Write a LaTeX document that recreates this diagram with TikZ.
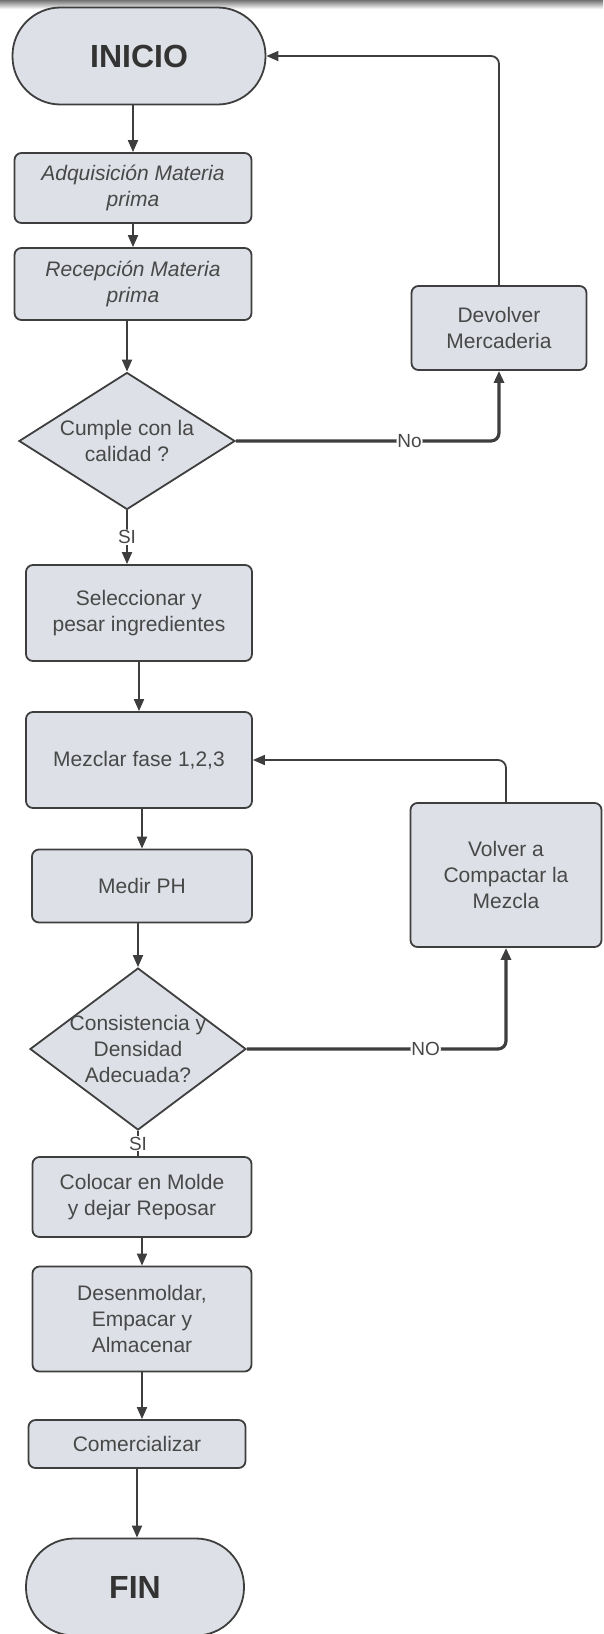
\documentclass[tikz,border=0pt]{standalone}
\usepackage{fontspec}
\setmainfont{Liberation Sans}
\usepackage{xcolor}
\usepackage{tikz}
\usetikzlibrary{shapes.geometric, arrows.meta, positioning}

\definecolor{cajagris}{RGB}{221,224,230}
\definecolor{borde}{RGB}{62,62,62}
\definecolor{texto}{RGB}{72,72,72}

\begin{document}
\begin{tikzpicture}[x=1pt, y=-1pt,
            box/.style={draw=borde, line width=1.8pt, rectangle, rounded corners=7pt, fill=cajagris, align=center, text=texto, inner sep=2pt, font=\fontsize{21}{26}\selectfont},
            term/.style={box, rounded corners=48pt, text=black!80, font=\fontsize{32}{38}\selectfont\bfseries},
            decision/.style={draw=borde, line width=1.8pt, diamond, fill=cajagris, inner sep=0pt},
            dtext/.style={align=center, text=texto, font=\fontsize{21}{26}\selectfont},
            pipe/.style={-{Triangle[length=12pt, width=10pt]}, line width=1.8pt, draw=borde, rounded corners=8pt},
            thickpipe/.style={pipe, line width=3.2pt},
            lbl/.style={fill=white, inner sep=1pt, text=texto, font=\fontsize{19}{22}\selectfont}]

            \useasboundingbox (0,0) rectangle (603,1634);
            \shade[top color=black!55, bottom color=white] (0,0) rectangle (603,9);

            % inicio
            \node[term, minimum width=253pt, minimum height=97pt] (inicio) at (139,56) {INICIO};

            % recepcion
            \node[box, minimum width=237pt, minimum height=70pt, font=\fontsize{21}{26}\selectfont\itshape] (adq) at (133,188) {Adquisición Materia\\prima};
            \node[box, minimum width=237pt, minimum height=72pt, font=\fontsize{21}{26}\selectfont\itshape] (rec) at (133,284) {Recepción Materia\\prima};
            \node[decision, minimum width=216pt, minimum height=137pt, label={[dtext]center:Cumple con la\\calidad ?}] (cumple) at (127,441) {};
            \node[box, minimum width=175pt, minimum height=84pt] (devolver) at (499,328) {Devolver\\Mercaderia};

            % preparacion
            \node[box, minimum width=226pt, minimum height=96pt] (selec) at (139,613) {Seleccionar y\\pesar ingredientes};
            \node[box, minimum width=226pt, minimum height=96pt] (mezclar) at (139,760) {Mezclar fase 1,2,3};
            \node[box, minimum width=220pt, minimum height=73pt] (medir) at (142,886) {Medir PH};
            \node[decision, minimum width=216pt, minimum height=162pt, label={[dtext]center:Consistencia y\\Densidad\\Adecuada?}] (consist) at (138,1049) {};
            \node[box, minimum width=191pt, minimum height=144pt] (volver) at (506,875) {Volver a\\Compactar la\\Mezcla};

            % salida
            \node[box, minimum width=219pt, minimum height=80pt] (colocar) at (142,1197) {Colocar en Molde\\y dejar Reposar};
            \node[box, minimum width=219pt, minimum height=105pt] (desen) at (142,1319) {Desenmoldar,\\Empacar y\\Almacenar};
            \node[box, minimum width=217pt, minimum height=48pt] (comerc) at (137,1444) {Comercializar};
            \node[term, minimum width=218pt, minimum height=97pt] (fin) at (135,1587) {FIN};

            % conexiones
            \draw[pipe] (inicio.south -| adq) -- (adq);
            \draw[pipe] (adq) -- (rec);
            \draw[pipe] (rec.south -| cumple.north) -- (cumple.north);
            \draw[thickpipe] (cumple.east) -| node[lbl, pos=0.33] {No} (devolver.south);
            \draw[pipe] (devolver.north) |- (inicio.east);
            \draw[pipe] (cumple.south) -- node[lbl] {SI} (cumple.south |- selec.north);
            \draw[pipe] (selec) -- (mezclar);
            \draw[pipe] (volver.north) |- (mezclar.east);
            \draw[pipe] (mezclar.south -| medir) -- (medir);
            \draw[pipe] (medir.south -| consist.north) -- (consist.north);
            \draw[thickpipe] (consist.east) -| node[lbl, pos=0.345] {NO} (volver.south);
            \draw[line width=1.8pt, draw=borde] (consist.south) -- node[lbl] {SI} (consist.south |- colocar.north);
            \draw[pipe] (colocar) -- (desen);
            \draw[pipe] (desen.south) -- (desen.south |- comerc.north);
            \draw[pipe] (comerc) -- (comerc |- fin.north);
        \end{tikzpicture}
\end{document}
